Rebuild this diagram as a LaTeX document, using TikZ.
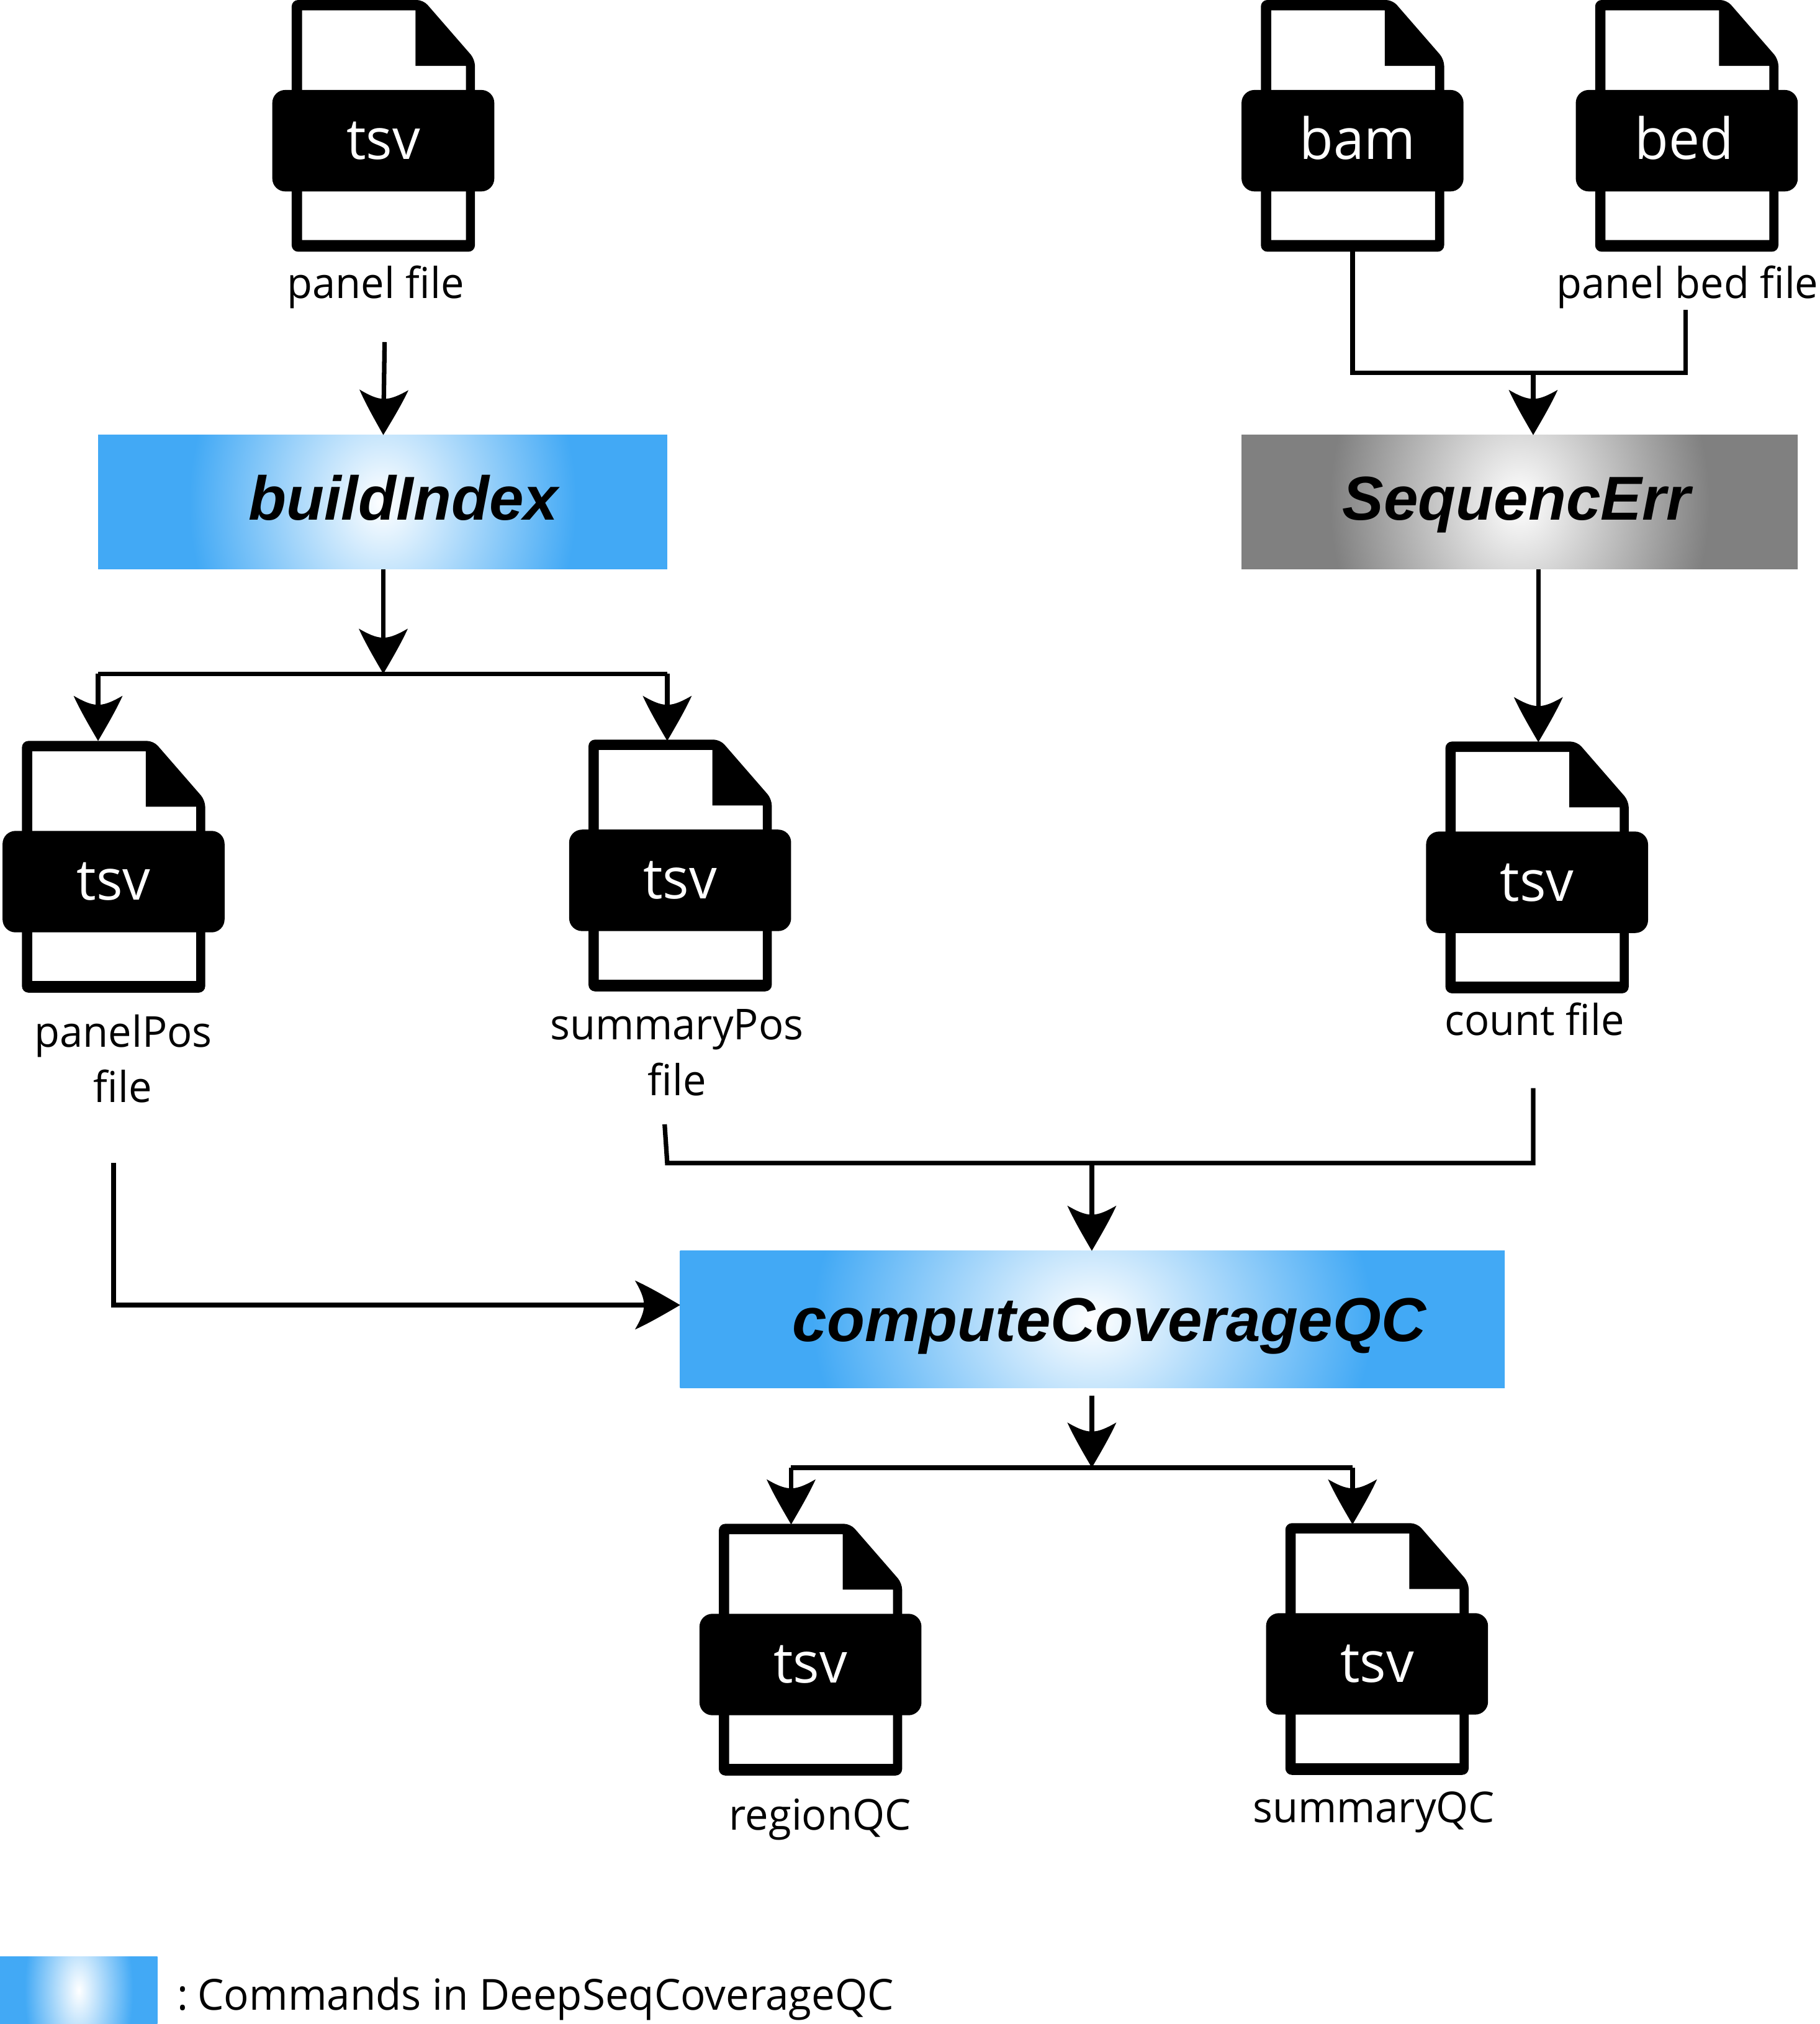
\documentclass[tikz,border=0pt]{standalone}
\usepackage{fontspec}
\setmainfont[FakeStretch=0.975]{Open Sans}
\newfontfamily\boxfont{Liberation Sans}
\usetikzlibrary{arrows.meta}
\definecolor{cmdb}{HTML}{42A9F5}
\definecolor{seqg}{HTML}{808080}
\pgfdeclareradialshading{cmdglow}{\pgfpoint{0bp}{0bp}}{color(0bp)=(white);color(12.5bp)=(cmdb);color(50bp)=(cmdb)}
\pgfdeclareradialshading{seqglow}{\pgfpoint{0bp}{0bp}}{color(0bp)=(white);color(12.5bp)=(seqg);color(50bp)=(seqg)}
\pgfdeclarearrow{
  name=Curvy,
  setup code={
    \pgfarrowssettipend{0pt}
    \pgfarrowssetlineend{-10pt}
    \pgfarrowssetvisualbackend{-14pt}
    \pgfarrowssetbackend{-17.5pt}
    \pgfarrowshullpoint{0pt}{0pt}
    \pgfarrowshullpoint{-17.5pt}{9.5pt}
    \pgfarrowshullpoint{-17.5pt}{-9.5pt}
  },
  drawing code={
    \pgfpathmoveto{\pgfpoint{0pt}{0pt}}
    \pgfpathcurveto{\pgfpoint{-6pt}{3.5pt}}{\pgfpoint{-12pt}{7pt}}{\pgfpoint{-17.5pt}{9.5pt}}
    \pgfpathcurveto{\pgfpoint{-15.5pt}{6pt}}{\pgfpoint{-14pt}{3pt}}{\pgfpoint{-14pt}{0pt}}
    \pgfpathcurveto{\pgfpoint{-14pt}{-3pt}}{\pgfpoint{-15.5pt}{-6pt}}{\pgfpoint{-17.5pt}{-9.5pt}}
    \pgfpathcurveto{\pgfpoint{-12pt}{-7pt}}{\pgfpoint{-6pt}{-3.5pt}}{\pgfpoint{0pt}{0pt}}
    \pgfpathclose
    \pgfusepathqfill
  },
}
\tikzset{
  x=0.5pt,y=-0.5pt,
  link/.style={line width=1.75pt,black},
  flow/.style={link,-{Curvy}},
  band/.style={fill=black,text=white,rounded corners=5pt,minimum width=86pt,minimum height=39.3pt,inner sep=0pt,text height=14.4pt,text depth=0pt,font=\fontsize{22}{22}\selectfont},
  cmdbox/.style={inner sep=0pt,text depth=0pt,font=\boxfont\fontsize{24}{24}\selectfont\bfseries\itshape},
  lab/.style={anchor=base,inner sep=0pt,font=\fontsize{16.5}{16.5}\selectfont},
}
\newcommand{\fileicon}[4]{%
  \begin{scope}[shift={(#2,#3)}]
    \fill[black,even odd rule]
      [rounded corners=2.5pt] (15,0)--(117,0)--(157,46)--(157,195)--(15,195)--cycle
      [sharp corners] (23,8)--(111,8)--(111,51)--(150,51)--(150,186)--(23,186)--cycle;
    \node[band] (#1) at (86,109) {#4};
  \end{scope}}
% args: left, top, right, bottom, radius x, radius y, shading
\newcommand{\glowrect}[7]{%
  \begin{scope}
    \clip (#1,#2) rectangle (#3,#4);
    \shade[shading=#7]
      ({(#1+#3)/2-2*#5},{(#2+#4)/2-2*#6}) rectangle ({(#1+#3)/2+2*#5},{(#2+#4)/2+2*#6});
  \end{scope}}
\begin{document}
\begin{tikzpicture}
\useasboundingbox (0,0) rectangle (1410,1568);
% file icons
\fileicon{panelIcon}{211}{0}{tsv}
\fileicon{bamIcon}{962}{0}{\hspace*{4pt}bam}
\fileicon{bedIcon}{1221}{0}{\hspace*{-2pt}bed}
\fileicon{panelPosIcon}{2}{574}{tsv}
\fileicon{summaryPosIcon}{441}{573}{tsv}
\fileicon{countIcon}{1105}{574.5}{tsv}
\fileicon{regionIcon}{542}{1180.5}{tsv}
\fileicon{summaryQCIcon}{981}{1180}{tsv}
% labels
\node[lab] (panelLab) at (291,231) {panel file};
\node[lab] (bedLab) at (1307.5,231) {panel bed file};
\node[lab] (posLabA) at (95.5,811) {panelPos};
\node[lab] (posLabB) at (95,854) {file};
\node[lab] (sumLabA) at (524.5,805.5) {summaryPos};
\node[lab] (sumLabB) at (524.5,848.5) {file};
\node[lab] (countLab) at (1189,802) {count file};
\node[lab] (regionLab) at (635.5,1417.5) {regionQC};
\node[lab] (sumQCLab) at (1064.5,1412) {summaryQC};
% command boxes
\glowrect{76}{337}{517}{441}{150}{177}{cmdglow}
\node[cmdbox,minimum width=220.5pt,minimum height=52pt,text height=14pt] (buildIndex) at (296.5,389) {\hspace*{16pt}buildIndex};
\glowrect{962}{337}{1393}{441}{147}{177}{seqglow}
\node[cmdbox,minimum width=215.5pt,minimum height=52pt,text height=14pt] (sequencErr) at (1177.5,389) {\hspace*{-2.5pt}SequencErr};
\glowrect{527}{969}{1166}{1075}{217}{180}{cmdglow}
\node[cmdbox,minimum width=319.5pt,minimum height=53pt,text height=17pt] (computeQC) at (846.5,1022) {\hspace*{13pt}computeCoverageQC};
% legend
\glowrect{0}{1516}{122}{1568}{42}{85}{cmdglow}
\node[inner sep=0pt,minimum width=61pt,minimum height=26pt] (legendBox) at (61,1542) {};
\node[anchor=base west,inner sep=0pt,font=\fontsize{16.6}{16.6}\selectfont] (legendText) at (137,1557) {:\hspace{-2pt} Commands in DeepSeqCoverageQC};
% junction coordinates
\coordinate (a1) at (298,265);
\coordinate (a2) at (297,337);
\coordinate (b1) at (1048,195);
\coordinate (b2) at (1048,289);
\coordinate (b3) at (1306,240);
\coordinate (b4) at (1306,289);
\coordinate (b5) at (1188,289);
\coordinate (b6) at (1188,337);
\coordinate (c1) at (297,441);
\coordinate (c2) at (297,522);
\coordinate (c3) at (76,522);
\coordinate (c4) at (517,522);
\coordinate (c5) at (76,574);
\coordinate (c6) at (517,574);
\coordinate (d1) at (1192,441);
\coordinate (d2) at (1192,575);
\coordinate (e1) at (515,871);
\coordinate (e2) at (517,901);
\coordinate (e3) at (1188,843);
\coordinate (e4) at (1188,901);
\coordinate (e5) at (846,901);
\coordinate (e6) at (846,969);
\coordinate (f1) at (88,901);
\coordinate (f2) at (88,1011);
\coordinate (f3) at (527,1011);
\coordinate (g1) at (846,1081);
\coordinate (g2) at (846,1137);
\coordinate (g3) at (613,1137);
\coordinate (g4) at (1048,1137);
\coordinate (g5) at (613,1181);
\coordinate (g6) at (1048,1181);
% connectors
\draw[flow] (a1) -- (a2);
\draw[link] (b1) -- (b2) -- (b4) -- (b3);
\draw[flow] (b5) -- (b6);
\draw[flow] (c1) -- (c2);
\draw[link] (c3) -- (c4);
\draw[flow] (c3) -- (c5);
\draw[flow] (c4) -- (c6);
\draw[flow] (d1) -- (d2);
\draw[link] (e1) -- (e2) -- (e4) -- (e3);
\draw[flow] (e5) -- (e6);
\draw[flow] (f1) -- (f2) -- (f3);
\draw[flow] (g1) -- (g2);
\draw[link] (g3) -- (g4);
\draw[flow] (g3) -- (g5);
\draw[flow] (g4) -- (g6);
\end{tikzpicture}
\end{document}
